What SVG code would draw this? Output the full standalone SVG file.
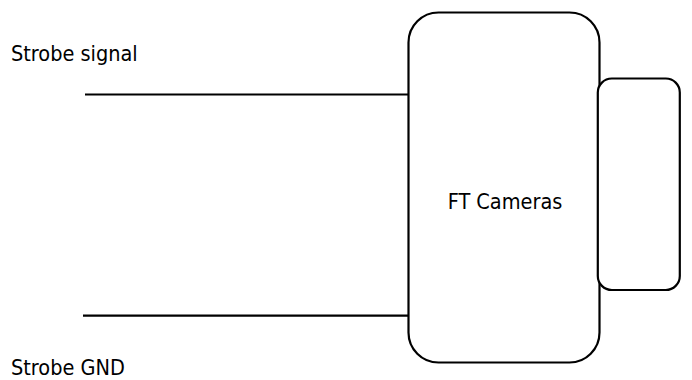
<svg xmlns="http://www.w3.org/2000/svg" width="692" height="380" viewBox="0 0 692 380">
<style>
.box{fill:#fff;stroke:#000;stroke-width:2.2}
.wire{stroke:#000;stroke-width:2.2;fill:none}
text{font-family:"DejaVu Sans Condensed","DejaVu Sans",sans-serif;font-size:21.5px;fill:#000}
</style>
<rect width="692" height="380" fill="#fff"/>
<g id="labels">
<text x="11" y="60.5">Strobe signal</text>
<text x="11" y="375">Strobe GND</text>
</g>
<g id="connectors">
<line class="wire" x1="85" y1="94.5" x2="408.5" y2="94.5"/>
<line class="wire" x1="83" y1="315.7" x2="408.5" y2="315.7"/>
</g>
<g id="camera">
<rect class="box" x="408.5" y="12.5" width="191" height="350" rx="30" ry="30"/>
<text x="505" y="208.5" text-anchor="middle">FT Cameras</text>
</g>
<g id="lens">
<rect class="box" x="597.8" y="78.5" width="82" height="211.5" rx="14" ry="14"/>
</g>
</svg>
